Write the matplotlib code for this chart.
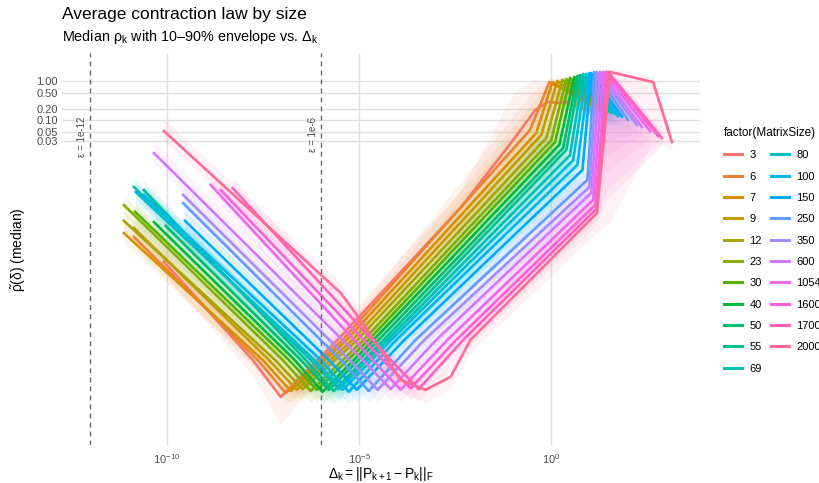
import numpy as np
import matplotlib
matplotlib.use("Agg")
import matplotlib.pyplot as plt
from matplotlib.lines import Line2D
from matplotlib.ticker import NullLocator

plt.rcParams['font.family'] = ['Liberation Sans', 'DejaVu Sans']
plt.rcParams['mathtext.fontset'] = 'custom'
plt.rcParams['mathtext.rm'] = 'Liberation Sans'
plt.rcParams['mathtext.it'] = 'Liberation Sans:italic'

sizes = [3, 6, 7, 9, 12, 23, 30, 40, 50, 55, 69, 80, 100, 150, 250, 350, 600, 1054, 1600, 1700, 2000]

# log10(Delta_k) at the knots of each median curve
delta_exp = [
    [-10.08, -7.77, -7.04, -5.56, -2.36, -0.99, -0.42, -0.08, 0.16, 0.42],
    [-10.86, -7.64, -6.91, -5.43, -0.55, -0.05, 1.01],
    [-11.12, -7.51, -6.78, -5.32, -0.39, 0.03, 1.06],
    [-10.86, -7.35, -6.62, -5.17, -0.26, 0.16, 1.14],
    [-11.12, -7.19, -6.47, -5.04, -0.13, 0.29, 1.22],
    [-11.12, -6.99, -6.26, -4.88, 0.00, 0.39, 1.27],
    [-10.83, -6.83, -6.10, -4.75, 0.10, 0.49, 1.32],
    [-10.34, -6.68, -5.95, -4.62, 0.21, 0.60, 1.40],
    [-10.03, -6.52, -5.79, -4.49, 0.31, 0.68, 1.45],
    [-10.60, -6.39, -5.66, -4.36, 0.39, 0.75, 1.53],
    [-10.86, -6.26, -5.53, -4.26, 0.49, 0.83, 1.58],
    [-10.81, -6.16, -5.43, -4.16, 0.57, 0.91, 1.66],
    [-10.60, -6.00, -5.27, -4.03, 0.68, 0.99, 1.74],
    [-9.53, -5.79, -5.06, -3.82, 0.81, 1.04, 1.84],
    [-9.58, -5.48, -4.75, -3.53, 0.94, 1.12, 2.00],
    [-9.58, -5.25, -4.52, -3.30, 0.99, 1.19, 2.23],
    [-10.34, -4.91, -4.18, -2.99, 1.04, 1.27, 2.36],
    [-8.86, -4.65, -3.92, -2.70, 1.09, 1.35, 2.57],
    [-8.60, -4.39, -3.66, -2.47, 1.14, 1.43, 2.78],
    [-8.29, -4.18, -3.45, -2.29, 1.17, 1.48, 2.88],
    [-10.08, -5.48, -4.96, -3.92, -3.27, -2.62, -2.10, 1.19, 1.53, 2.65, 3.14],
]

# log10 of median rho at the same knots
rho_exp = [
    [-4.59, -7.08, -8.02, -6.57, -3.22, -1.50, -0.74, -0.53, -0.56, -0.53],
    [-3.96, -7.08, -7.92, -6.57, -1.24, -0.03, -0.56],
    [-3.86, -7.08, -7.87, -6.57, -1.32, -0.03, -0.63],
    [-3.73, -7.08, -7.84, -6.57, -1.37, 0.00, -0.66],
    [-3.55, -7.08, -7.82, -6.57, -1.45, 0.03, -0.69],
    [-3.15, -7.08, -7.87, -6.57, -1.50, 0.05, -0.69],
    [-3.32, -7.08, -7.84, -6.57, -1.55, 0.08, -0.74],
    [-3.58, -7.08, -7.89, -6.57, -1.62, 0.10, -0.74],
    [-3.68, -7.08, -7.84, -6.57, -1.70, 0.13, -0.79],
    [-2.77, -7.08, -7.87, -6.57, -1.75, 0.15, -0.79],
    [-2.69, -7.08, -7.82, -6.57, -1.88, 0.18, -0.81],
    [-2.82, -7.08, -7.84, -6.57, -2.01, 0.18, -0.84],
    [-2.89, -7.08, -7.89, -6.57, -2.13, 0.20, -0.89],
    [-3.55, -7.08, -7.84, -6.57, -2.26, 0.20, -0.91],
    [-3.10, -7.08, -7.87, -6.57, -2.51, 0.23, -0.99],
    [-2.89, -7.08, -7.84, -6.57, -2.69, 0.23, -1.12],
    [-1.83, -7.08, -7.82, -6.57, -2.84, 0.23, -1.17],
    [-2.64, -7.08, -7.84, -6.57, -3.02, 0.23, -1.27],
    [-2.77, -7.08, -7.80, -6.57, -3.15, 0.23, -1.40],
    [-2.72, -7.08, -7.82, -6.57, -3.25, 0.23, -1.45],
    [-1.27, -5.38, -6.07, -7.59, -7.84, -7.51, -6.57, -3.35, 0.23, -0.03, -1.55],
]

# 90% quantile above the median (decades)
band_up = [
    [0.3, 0.3, 0.2, 0.3, 0.45, 1.2, 0.8, 0.4, 0.3, 0.2],
    [0.25, 0.25, 0.2, 0.25, 0.9, 0.12, 0.2],
    [0.25, 0.25, 0.2, 0.25, 0.9, 0.12, 0.2],
    [0.25, 0.25, 0.2, 0.25, 0.9, 0.12, 0.2],
    [0.25, 0.25, 0.2, 0.25, 0.7, 0.12, 0.2],
    [0.25, 0.25, 0.2, 0.25, 0.7, 0.12, 0.2],
    [0.25, 0.25, 0.2, 0.25, 0.7, 0.12, 0.2],
    [0.25, 0.25, 0.2, 0.25, 0.7, 0.12, 0.2],
    [0.25, 0.25, 0.2, 0.25, 0.6, 0.12, 0.2],
    [0.25, 0.25, 0.2, 0.25, 0.5, 0.12, 0.2],
    [0.25, 0.25, 0.2, 0.25, 0.5, 0.12, 0.2],
    [0.25, 0.25, 0.2, 0.25, 0.5, 0.12, 0.2],
    [0.25, 0.25, 0.2, 0.25, 0.5, 0.12, 0.2],
    [0.25, 0.25, 0.2, 0.25, 0.5, 0.12, 0.2],
    [0.25, 0.25, 0.2, 0.25, 0.45, 0.12, 0.2],
    [0.25, 0.25, 0.2, 0.25, 0.45, 0.12, 0.2],
    [0.3, 0.25, 0.2, 0.25, 0.4, 0.12, 0.2],
    [0.25, 0.25, 0.2, 0.25, 0.4, 0.12, 0.2],
    [0.25, 0.25, 0.2, 0.25, 0.4, 0.12, 0.2],
    [0.25, 0.25, 0.2, 0.25, 0.4, 0.12, 0.2],
    [0.3, 0.25, 0.25, 0.25, 0.2, 0.25, 0.3, 0.4, 0.12, 0.15, 0.2],
]

# 10% quantile below the median (decades)
band_dn = [
    [0.3, 0.4, 0.7, 0.35, 0.3, 0.35, 0.35, 0.35, 0.3, 0.2],
    [0.25, 0.3, 0.3, 0.3, 0.4, 0.5, 0.2],
    [0.25, 0.3, 0.3, 0.3, 0.4, 0.5, 0.2],
    [0.25, 0.3, 0.3, 0.3, 0.4, 0.5, 0.2],
    [0.25, 0.3, 0.3, 0.3, 0.4, 0.6, 0.2],
    [0.25, 0.3, 0.3, 0.3, 0.4, 0.6, 0.2],
    [0.25, 0.3, 0.3, 0.3, 0.4, 0.7, 0.2],
    [0.25, 0.3, 0.3, 0.3, 0.4, 0.7, 0.2],
    [0.25, 0.3, 0.3, 0.3, 0.4, 0.8, 0.2],
    [0.25, 0.3, 0.3, 0.3, 0.4, 0.8, 0.2],
    [0.25, 0.3, 0.3, 0.3, 0.4, 1.0, 0.2],
    [0.25, 0.3, 0.3, 0.3, 0.4, 1.0, 0.2],
    [0.25, 0.3, 0.3, 0.3, 0.4, 1.2, 0.2],
    [0.25, 0.3, 0.3, 0.3, 0.4, 1.3, 0.2],
    [0.25, 0.3, 0.3, 0.3, 0.4, 1.5, 0.2],
    [0.25, 0.3, 0.3, 0.3, 0.4, 1.8, 0.2],
    [0.25, 0.3, 0.3, 0.3, 0.4, 2.2, 0.2],
    [0.25, 0.3, 0.3, 0.3, 0.4, 2.6, 0.2],
    [0.25, 0.3, 0.3, 0.3, 0.4, 3.0, 0.2],
    [0.25, 0.3, 0.3, 0.3, 0.4, 3.2, 0.2],
    [0.25, 0.25, 0.25, 0.3, 0.35, 0.3, 0.3, 0.5, 3.8, 1.5, 0.2],
]

eps_lines = [1e-12, 1e-6]
eps_labels = ["ε = 1e-12", "ε = 1e-6"]
y_ticks = [0.03, 0.05, 0.1, 0.2, 0.5, 1.0]
y_ticklabels = ["0.03", "0.05", "0.10", "0.20", "0.50", "1.00"]
x_ticks = [1e-10, 1e-5, 1e0]
x_ticklabels = [r"$\mathregular{10^{-10}}$", r"$\mathregular{10^{-5}}$", r"$\mathregular{10^{0}}$"]


def hue_color(h, c=100.0, l=65.0):
    # ggplot2 default hue palette (polar Luv -> sRGB)
    hr = np.deg2rad(h)
    u, v = c * np.cos(hr), c * np.sin(hr)
    xn, yn, zn = 95.047, 100.0, 108.883
    y = yn * ((l + 16) / 116) ** 3
    un = 4 * xn / (xn + 15 * yn + 3 * zn)
    vn = 9 * yn / (xn + 15 * yn + 3 * zn)
    up = u / (13 * l) + un
    vp = v / (13 * l) + vn
    x = 9 * y * up / (4 * vp)
    z = 3 * y / vp - 5 * y - x / 3
    m = np.array([[3.240479, -1.537150, -0.498535],
                  [-0.969256, 1.875992, 0.041556],
                  [0.055648, -0.204043, 1.057311]])
    rgb = m @ (np.array([x, y, z]) / 100)
    rgb = np.clip(rgb, 0, None)
    rgb = np.where(rgb <= 0.0031308, 12.92 * rgb, 1.055 * rgb ** (1 / 2.4) - 0.055)
    return tuple(np.clip(rgb, 0, 1))


n = len(sizes)
colors = [hue_color(15 + i * 360 / n) for i in range(n)]

fig = plt.figure(figsize=(8.2, 4.83), dpi=100)
ax = fig.add_axes([62 / 820, 38 / 483, 638 / 820, 392 / 483])
ax.set_xscale('log')
ax.set_yscale('log')

# envelopes first, lines on top
for i in range(n):
    dx = 10 ** np.array(delta_exp[i])
    med = np.array(rho_exp[i])
    lo = 10 ** (med - np.array(band_dn[i]))
    hi = 10 ** (med + np.array(band_up[i]))
    ax.fill_between(dx, lo, hi, color=colors[i], alpha=0.09, lw=0)

for i in range(n):
    ax.plot(10 ** np.array(delta_exp[i]), 10 ** np.array(rho_exp[i]),
            color=colors[i], lw=1.9, solid_joinstyle='round')

for xv, lab in zip(eps_lines, eps_labels):
    ax.axvline(xv, color='#666666', lw=1.0, ls=(0, (3.5, 3)))
    ax.text(xv / 10 ** 0.21, 10 ** -0.9, lab, rotation=90, ha='center', va='top',
            fontsize=7, color='#4D4D4D')

ax.set_xlim(10 ** -12.73, 10 ** 3.87)
ax.set_ylim(10 ** -9.24, 10 ** 0.71)
ax.set_xticks(x_ticks)
ax.set_xticklabels(x_ticklabels)
ax.set_yticks(y_ticks)
ax.set_yticklabels(y_ticklabels)
ax.xaxis.set_minor_locator(NullLocator())
ax.yaxis.set_minor_locator(NullLocator())
ax.tick_params(length=0, labelsize=8, labelcolor='#4D4D4D')
ax.tick_params(axis='x', pad=5)
ax.tick_params(axis='y', pad=3)
ax.grid(True, color='#E0E0E0', lw=1.0)
ax.set_axisbelow(True)
for s in ax.spines.values():
    s.set_visible(False)

fig.text(62 / 820, 1 - 19 / 483, "Average contraction law by size", fontsize=12.5,
         va='baseline', color='black')
fig.text(62 / 820, 1 - 41 / 483,
         r"Median $\mathregular{\rho_k}$ with 10–90% envelope vs. $\mathregular{\Delta_k}$",
         fontsize=10.4, va='baseline', color='black')
fig.text(381 / 820, 1 - 474 / 483, r"$\mathregular{\Delta_k = ||P_{k+1} - P_k||_F}$",
         ha='center', va='center', fontsize=10)
fig.text(19 / 820, 1 - 250 / 483, r"$\mathregular{\tilde{\rho}(\delta)}$ (median)",
         rotation=90, ha='center', va='center', fontsize=10)

handles = [Line2D([], [], color=colors[i], lw=2.2) for i in range(n)]
fig.legend(handles, [str(s) for s in sizes], ncol=2, loc='upper left',
           bbox_to_anchor=(714 / 820, 1 - 117 / 483), frameon=False,
           title='factor(MatrixSize)', fontsize=8, title_fontsize=8.5,
           handlelength=1.6, handletextpad=0.7, columnspacing=0.8,
           labelspacing=1.02, alignment='left')

fig.savefig('out.png', dpi=100)
